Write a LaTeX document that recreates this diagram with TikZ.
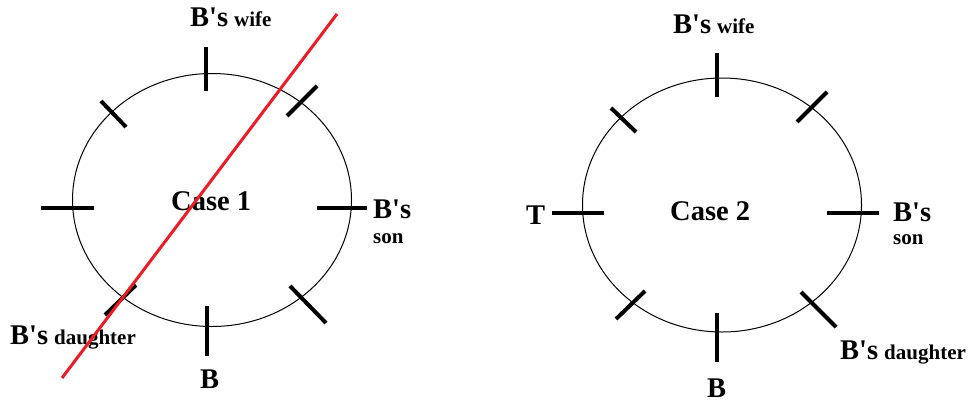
\documentclass[tikz,border=0pt]{standalone}
\usepackage{fontspec}
\newfontfamily\lab{Liberation Serif}
\definecolor{paintred}{RGB}{237,28,36}
\tikzset{
  ring/.style={draw=black, line width=1pt},
  tick/.style={draw=black, line width=4pt},
  cross/.style={draw=paintred, line width=3pt},
  lbl/.style={anchor=base west, inner sep=0pt, font=\lab\bfseries},
}
\newcommand{\bigtxt}[1]{{\fontsize{28.5}{30}\selectfont #1}}
\newcommand{\smltxt}[1]{{\fontsize{21}{22}\selectfont #1}}
\begin{document}
\begin{tikzpicture}[x=1pt,y=-1pt]
\useasboundingbox (0,0) rectangle (969,402);
% ---------- Case 1 ----------
\draw[ring] (212,200) ellipse [x radius=139.5pt, y radius=126.5pt];
\draw[tick] (206,47) -- (206,91);
\draw[tick] (41,208) -- (94,208);
\draw[tick] (317,208) -- (367,208);
\draw[tick] (207,306) -- (207,356);
\draw[tick] (101,101) -- (126,127);
\draw[tick] (317,86) -- (287,116);
\draw[tick] (290,286) -- (326,323);
\draw[tick] (136,285) -- (105,315);
\node[lbl] (c1wife) at (190,26) {\bigtxt{B's}\hspace{6pt}\smltxt{wife}};
\node[lbl] (c1case) at (171,210.5) {\bigtxt{Case 1}};
\node[lbl] (c1son) at (373,218) {\bigtxt{B's}};
\node[lbl] (c1sonb) at (373,243) {\smltxt{son}};
\node[lbl] (c1dau) at (10,344) {\bigtxt{B's}\hspace{6pt}\smltxt{daughter}};
\node[lbl] (c1b) at (200,388) {\bigtxt{B}};
\draw[cross] (337,14) -- (62,378);
% ---------- Case 2 ----------
\draw[ring] (722,205) ellipse [x radius=139.5pt, y radius=127pt];
\draw[tick] (717,53) -- (717,97);
\draw[tick] (552,213) -- (604,213);
\draw[tick] (827,213) -- (879,213);
\draw[tick] (717,313) -- (717,362);
\draw[tick] (611,108) -- (636,132);
\draw[tick] (827,92) -- (797,122);
\draw[tick] (801,292) -- (836,327);
\draw[tick] (645,291) -- (616,319);
\node[lbl] (c2wife) at (673,33) {\bigtxt{B's}\hspace{6pt}\smltxt{wife}};
\node[lbl] (c2case) at (670,220) {\bigtxt{Case 2}};
\node[lbl] (c2t) at (526,224) {\bigtxt{T}};
\node[lbl] (c2son) at (893,221) {\bigtxt{B's}};
\node[lbl] (c2sonb) at (893,244) {\smltxt{son}};
\node[lbl] (c2dau) at (840,359) {\bigtxt{B's}\hspace{6pt}\smltxt{daughter}};
\node[lbl] (c2b) at (707,397) {\bigtxt{B}};
\end{tikzpicture}
\end{document}
